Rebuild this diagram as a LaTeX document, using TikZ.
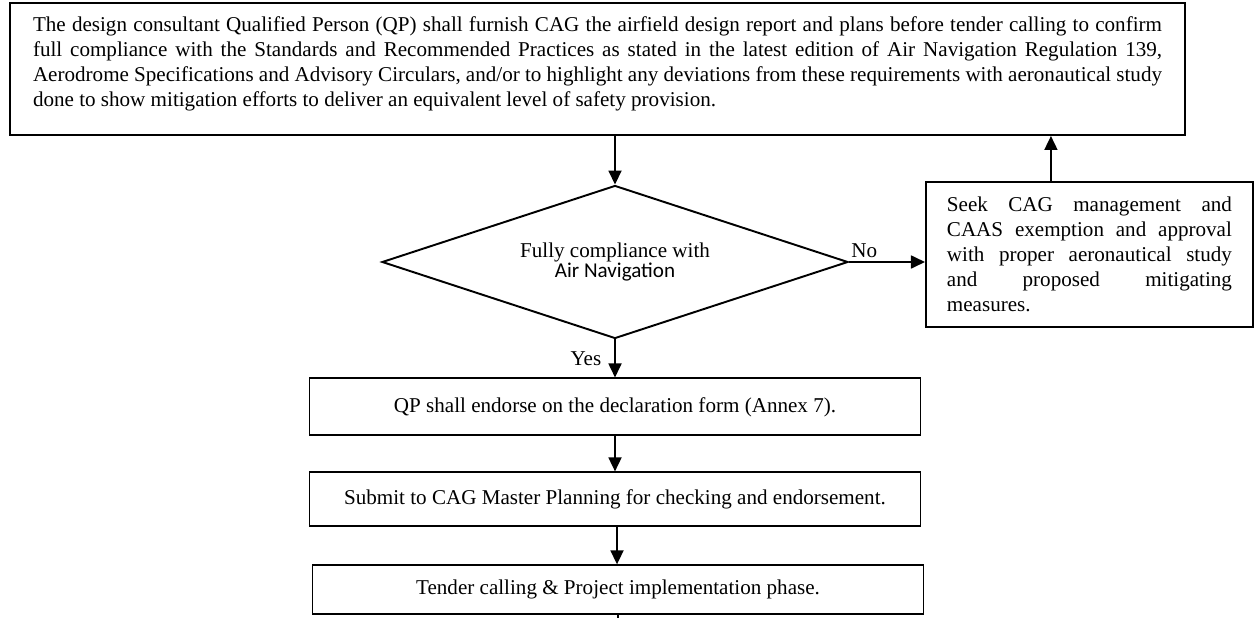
\documentclass[tikz,border=0pt]{standalone}
\usepackage{fontspec}
\setmainfont{Liberation Serif}
\newfontfamily\calibrifont{Carlito}
\usetikzlibrary{positioning,shapes.geometric,arrows.meta}

\begin{document}
\begin{tikzpicture}[node distance=0.7cm and 1.5cm,
  every node/.style={font=\fontsize{12}{14.2}\selectfont},
  stepbox/.style={rectangle, draw, line width=1.1pt, inner sep=0pt, minimum width=12.22cm},
  decision/.style={diamond, draw, line width=1.1pt, aspect=3, inner sep=0pt,
    minimum width=9.32cm, minimum height=3.06cm, align=center},
  arr/.style={-{Triangle[length=0.28cm, width=0.26cm]}, line width=1pt}]
  \useasboundingbox (0,0) rectangle (25.18,-12.36);
  \fill[white] (0,0) rectangle (25.18,-12.36);
  \node[stepbox, minimum width=23.5cm, minimum height=2.64cm, text width=22.58cm, align=justify] (require) at (11.95,-1.38)
    {The design consultant Qualified Person (QP) shall furnish CAG the airfield design report and plans before tender calling to confirm\linebreak
     full compliance with the Standards and Recommended Practices as stated in the latest edition of Air Navigation Regulation 139,\linebreak
     Aerodrome Specifications and Advisory Circulars, and/or to highlight any deviations from these requirements with aeronautical study\linebreak
     done to show mitigation efforts to deliver an equivalent level of safety provision.\par\vspace{6pt}\hrule height 0pt width 0pt};
  \node[decision, font=\fontsize{12}{11}\selectfont] (comply) at (12.3,-5.24) {Fully compliance with\\{\calibrifont Air Navigation}};
  \node[stepbox, minimum width=6.54cm, minimum height=2.9cm, text width=5.7cm, align=justify, right=1.52cm of comply, yshift=0.15cm] (exempt)
    {Seek CAG management and\linebreak CAAS exemption and approval\linebreak with proper aeronautical study\linebreak and proposed mitigating\linebreak measures.};
  \node[stepbox, minimum height=1.14cm, below=0.76cm of comply] (endorse) {QP shall endorse on the declaration form (Annex 7).};
  \node[stepbox, minimum height=1.08cm, below=0.7cm of endorse] (submit) {Submit to CAG Master Planning for checking and endorsement.};
  \node[stepbox, minimum height=0.98cm, below=0.74cm of submit, xshift=0.06cm] (tender) {Tender calling \& Project implementation phase.};
  \coordinate[below=0.2cm of tender] (exit);

  \draw[arr] (comply.north |- require.south) -- (comply.north);
  \draw[arr] (comply.east) -- node[above, pos=0.2, inner sep=2pt] {No} (comply.east -| exempt.west);
  \draw[arr] ([xshift=-0.77cm]exempt.north) -- ([xshift=-0.77cm]exempt.north |- require.south);
  \draw[arr] (comply.south) -- node[left=4pt] {Yes} (comply.south |- endorse.north);
  \draw[arr] (endorse.south) -- (submit.north);
  \draw[arr] ([xshift=0.04cm]submit.south) -- ([xshift=0.04cm]submit.south |- tender.north);
  \draw[line width=1pt] (tender.south) -- (exit);
\end{tikzpicture}
\end{document}
